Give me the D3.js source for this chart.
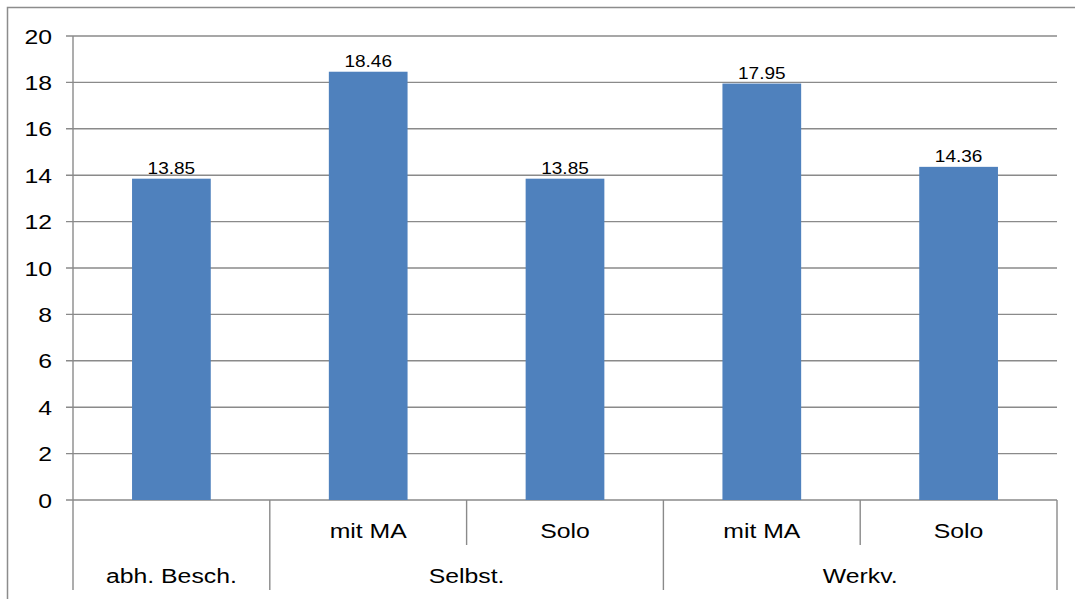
<!DOCTYPE html>
<html>
<head>
<meta charset="utf-8">
<script src="https://cdn.jsdelivr.net/npm/d3@7"></script>
<style>
  html, body { margin: 0; padding: 0; background: #fff; }
  svg { display: block; }
  text { font-family: "Liberation Sans", Arial, Helvetica, sans-serif; fill: #000; }
</style>
</head>
<body>
<svg id="chart" width="1075" height="599"></svg>
<script>
// ---- data ----
const subCategories = ["", "mit MA", "Solo", "mit MA", "Solo"];
const groupLabels = ["abh. Besch.", "Selbst.", "Werkv."];
const groupOf = [0, 1, 1, 2, 2];
const values = [13.85, 18.46, 13.85, 17.95, 14.36];
const valueLabels = ["13.85", "18.46", "13.85", "17.95", "14.36"];
const yTicks = [0, 2, 4, 6, 8, 10, 12, 14, 16, 18, 20];

(function () {
// ---- layout ----
const W = 1075, H = 599;
const mLeft = 73, mRight = 1057, mTop = 36, mBottom = 500;
const row1Bottom = 545, row2Bottom = 590;
const gridColor = "#8a8a8a";
const barColor = "#4F81BD";

const svg = d3.select("#chart");

// frame (partially cropped at right/bottom)
svg.append("path")
  .attr("d", `M7.5,${H + 5} L7.5,7.5 L${W + 5},7.5`)
  .attr("fill", "none")
  .attr("stroke", "#8c8c8c")
  .attr("stroke-width", 1.5);

const idx = d3.range(values.length);
const x = d3.scaleBand().domain(idx).range([mLeft, mRight]).padding(0);
const y = d3.scaleLinear().domain([0, 20]).range([mBottom, mTop]);

// gridlines + tick marks
svg.append("g").selectAll("line").data(yTicks).join("line")
  .attr("x1", mLeft - 7).attr("x2", mRight)
  .attr("y1", d => y(d)).attr("y2", d => y(d))
  .attr("stroke", gridColor).attr("stroke-width", 1.4);

// y tick labels (slightly widened to match reference)
svg.append("g").selectAll("text").data(yTicks).join("text")
  .attr("transform", d => `translate(52,${y(d) + 7.5}) scale(1.18,1)`)
  .attr("text-anchor", "end")
  .attr("font-size", 21)
  .text(d => d);

// bars
const barW = x.bandwidth() * 0.4;
svg.append("g").selectAll("rect").data(idx).join("rect")
  .attr("x", i => x(i) + (x.bandwidth() - barW) / 2)
  .attr("width", barW)
  .attr("y", i => y(values[i]))
  .attr("height", i => y(0) - y(values[i]))
  .attr("fill", barColor);

// value labels
svg.append("g").selectAll("text").data(idx).join("text")
  .attr("transform", i => `translate(${x(i) + x.bandwidth() / 2},${y(values[i]) - 5}) scale(1.12,1)`)
  .attr("text-anchor", "middle")
  .attr("font-size", 17)
  .text(i => valueLabels[i]);

// y axis line
svg.append("line")
  .attr("x1", mLeft).attr("x2", mLeft)
  .attr("y1", mTop).attr("y2", row2Bottom)
  .attr("stroke", gridColor).attr("stroke-width", 1.4);

// category separators
const edges = d3.range(values.length + 1).map(i => i < values.length ? x(i) : mRight);
const sepData = edges.slice(1).map((ex, k) => {
  const i = k + 1; // boundary after band k
  const isGroupEdge = i === values.length || groupOf[i] !== groupOf[i - 1];
  return { x: ex, full: isGroupEdge };
});
svg.append("g").selectAll("line").data(sepData).join("line")
  .attr("x1", d => d.x).attr("x2", d => d.x)
  .attr("y1", mBottom)
  .attr("y2", d => d.full ? row2Bottom : row1Bottom)
  .attr("stroke", gridColor).attr("stroke-width", 1.4);

// sub-category labels
svg.append("g").selectAll("text").data(idx).join("text")
  .attr("transform", i => `translate(${x(i) + x.bandwidth() / 2},538) scale(1.18,1)`)
  .attr("text-anchor", "middle")
  .attr("font-size", 21)
  .text(i => subCategories[i]);

// group labels
const groups = groupLabels.map((g, gi) => {
  const members = idx.filter(i => groupOf[i] === gi);
  const x0 = x(members[0]);
  const x1 = x(members[members.length - 1]) + x.bandwidth();
  return { label: g, cx: (x0 + x1) / 2 };
});
svg.append("g").selectAll("text").data(groups).join("text")
  .attr("transform", d => `translate(${d.cx},583) scale(1.18,1)`)
  .attr("text-anchor", "middle")
  .attr("font-size", 21)
  .text(d => d.label);
})();
</script>
</body>
</html>
